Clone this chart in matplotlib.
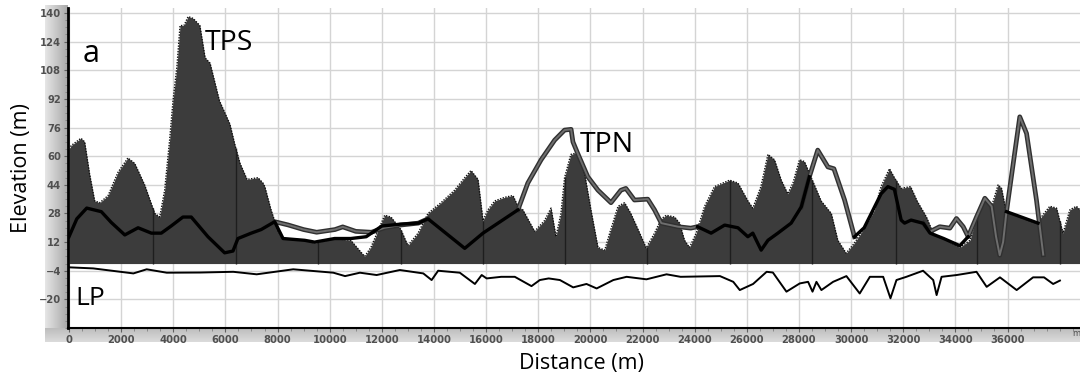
import numpy as np
import matplotlib.pyplot as plt
from matplotlib.ticker import MultipleLocator

nan = np.nan

# terrain profile (filled), distance in m, elevation in m
terrain_d = [0, 90, 460, 600, 790, 985, 1180, 1500, 1880, 2260, 2520, 2900, 3290, 3480,
             3670, 3860, 3990, 4140, 4260, 4410, 4570, 4760, 5020, 5220, 5410, 5770,
             6170, 6370, 6560, 6830, 7250, 7440, 7510, 7750, 8020, 8210, 9040, 9420,
             10190, 10810, 11340, 11580, 12110, 12350, 12730, 13000, 13390, 13770,
             14270, 14790, 15180, 15420, 15690, 15880, 16070, 16330, 16710, 17030,
             17220, 17410, 17860, 18240, 18490, 18680, 18870, 19010, 19250, 19520,
             19780, 20020, 20290, 20550, 20740, 21060, 21310, 21550, 21890, 22140,
             22460, 22720, 22910, 23230, 23420, 23610, 23800, 24060, 24380, 24760,
             25340, 25660, 26040, 26230, 26540, 26810, 27060, 27320, 27570, 27770,
             28020, 28210, 28470, 28850, 29240, 29490, 29810, 30130, 30510, 30900,
             31150, 31470, 31660, 31920, 32280, 32530, 32890, 33150, 33660, 34170,
             34560, 34810, 35130, 35390, 35640, 35770, 35960, 36210, 36600, 37110,
             37620, 37880, 38130, 38390, 38640, 38780]
terrain_e = [64, 66, 70, 68, 50, 35, 34, 38, 51, 59, 56, 44, 28, 26,
             41, 69, 91, 110, 133, 133, 138, 137, 133, 115, 112, 91,
             78, 66, 56, 47, 48, 45, 43, 30, 18, 14, 13, 11.5,
             14, 13, 4, 9, 27, 26, 19, 10, 17, 28,
             34, 41, 48, 52, 47, 24, 30, 35, 37, 38,
             32, 30, 18, 24, 31, 15, 28, 48, 61, 62,
             50, 30, 9, 7.5, 17, 32, 34, 28, 17, 8.7,
             17, 25, 27, 26, 22.6, 13, 9, 17, 32, 43,
             46.6, 45, 35, 31, 43, 61, 58, 46.6, 39, 45,
             58, 57, 48, 35, 28, 13, 5.8, 11.5, 20, 30,
             43, 53, 48, 42, 43, 35, 26, 17, 13, 9,
             13, 26, 36.5, 32, 44, 42, 28, 28, 25, 22.6,
             32, 31, 17, 30, 32, 30]

# black profile line (nan = line hidden under the grey one)
black_d = [0, 300, 680, 1240, 1620, 2140, 2650, 3160, 3540, 3920, 4370, 4690, 5330,
           5970, 6290, 6480, 6990, 7370, 7890, 8210, 9040, 9420, 10190, 10810,
           11400, 12000, 12700, 13400, 13770, 15180, 15880, 17220, 17230,
           24110, 24630, 25150, 25660, 26040, 26230, 26550, 26810, 27190, 27700,
           28090, 28400, 28410,
           30130, 30500, 31150, 31410, 31660, 31920, 32050, 32300, 32770, 33030,
           33550, 34170, 34490, 34500,
           35960, 36340, 36850, 37170]
black_e = [15, 25, 31, 29, 23, 16, 20, 17, 17, 21, 26, 26, 15,
           6, 7, 14, 17, 19, 23.4, 14, 13, 12, 14, 14,
           15, 21, 22, 22.6, 25, 8.5, 17, 30, nan,
           20.6, 17, 21.5, 20, 15, 17, 7.5, 13, 17, 22.6,
           31.7, 48.5, nan,
           15, 20, 39, 43, 41.5, 24.3, 22.6, 24.3, 22.5, 17,
           14, 10, 15, nan,
           29, 27, 24.3, 22.6]

# grey (outlined) profile line (TPN)
grey_d = [7890, 8400, 9000, 9500, 10200, 10500, 11000, 11600, 12100, 12700,
          13400, 13770, 13780,
          17220, 17600, 18110, 18630, 19010, 19260, 19330, 19500, 19900, 20290,
          20790, 21170, 21360, 21690, 22200, 22460, 22720, 23360, 23850, 24110,
          24120,
          28090, 28400, 28720, 29110, 29340, 29750, 30130, 30140,
          32770, 33020, 33400, 33790, 34040, 34300, 34490, 34810, 35130, 35390,
          35560, 35700, 35830, 35960, 36470, 36730, 37110, 37370]
grey_e = [23.4, 21.6, 19, 17.5, 19, 20.5, 18, 17.5, 20, 21.5,
          22.6, 25, nan,
          30, 45, 58, 69, 74.6, 75, 68, 62, 48.5, 41,
          34, 41, 42, 35.5, 36, 30, 22.6, 20.6, 19.8, 20.6,
          nan,
          31.7, 48.5, 63.4, 54, 53, 35.5, 15, nan,
          22.5, 17.8, 20.6, 19.8, 25.2, 20.6, 15, 26, 36.5, 32,
          15, 4.7, 12, 29, 82, 72.7, 35.5, 5]

# lower profile (LP)
lp_d = [0, 930, 2470, 2980, 3750, 5030, 6300, 7200, 8600, 10140, 10590, 11160,
        11800, 12690, 13590, 13910, 14160, 14990, 15570, 15830, 16020, 16580,
        17100, 17740, 18060, 18400, 18830, 19340, 19850, 20240, 20880, 21390,
        22150, 22920, 23460, 24970, 25480, 25730, 26240, 26760, 27000, 27520,
        28030, 28350, 28520, 28670, 28860, 29310, 29820, 30330, 30720, 31230,
        31510, 31740, 32120, 32760, 33150, 33280, 33470, 34050, 34810, 35200,
        35710, 36350, 36980, 37400, 37750, 38010]
lp_e = [-2.1, -2.7, -5.5, -3.2, -5.1, -5, -4.6, -6, -3.2, -5.1, -7, -5.1,
        -6.4, -3.6, -5.5, -9.2, -4, -5.1, -11.4, -6.4, -8.3, -7.4,
        -7.4, -12.6, -9.2, -8.3, -9.2, -13.3, -11.4, -13.9, -9.2, -7.4,
        -8.8, -6, -7.4, -7, -10.2, -14.8, -11.4, -4.6, -5, -15.7,
        -11.1, -10.2, -15.7, -10.2, -14.8, -10.2, -7, -16.7, -7.4, -7.4,
        -19.4, -9.2, -7.4, -4, -9.2, -17.6, -7.4, -6.4, -4.6, -13,
        -7.7, -14.8, -7.7, -7.7, -11.4, -9.5]

# darker segment separators inside the filled profile
segment_d = [3220, 6400, 9550, 12730, 15880, 19020, 22170, 25350, 28500, 31720, 34820, 38010]

xticks = list(range(0, 38000, 2000))
yticks = [-20, -4, 12, 28, 44, 60, 76, 92, 108, 124, 140]

fig = plt.figure(figsize=(10.8, 3.8), dpi=100)

# grey gradient bars behind the tick labels
grad = fig.add_axes([45/1080, 1-342/380, 23/1080, 337/380])
grad.imshow(np.linspace(0.90, 0.66, 50)[None, :], cmap='gray', vmin=0, vmax=1,
            aspect='auto', extent=[0, 1, 0, 1])
grad.axis('off')
gradb = fig.add_axes([45/1080, 1-342/380, 1035/1080, 14/380])
gradb.imshow(np.linspace(0.74, 0.86, 50)[:, None], cmap='gray', vmin=0, vmax=1,
             aspect='auto', extent=[0, 1, 0, 1])
gradb.axis('off')

ax = fig.add_axes([68/1080, 1-328/380, 1012/1080, 320/380])
ax.set_xlim(-38, 38780)
ax.set_ylim(-36, 142.8)

ax.fill_between(terrain_d, 0, terrain_e, color='#3c3c3c', lw=0, zorder=2)
ax.plot(terrain_d, terrain_e, color='#111111', lw=1.0, ls=(0, (1, 1)), zorder=3)
seg_top = np.interp(segment_d, terrain_d, terrain_e)
ax.vlines(segment_d, 0, seg_top, color='#1e1e1e', lw=1.0, zorder=3)

ax.plot(grey_d, grey_e, color='#303030', lw=3.4, zorder=4)
ax.plot(grey_d, grey_e, color='#6e6e6e', lw=1.4, zorder=4)
ax.plot(black_d, black_e, color='black', lw=2.4, zorder=5)
ax.plot(lp_d, lp_e, color='black', lw=1.4, zorder=5)

ax.set_xticks(xticks)
ax.set_yticks(yticks)
ax.yaxis.set_minor_locator(MultipleLocator(4))
ax.xaxis.set_minor_locator(MultipleLocator(500))
ax.grid(True, color='#d4d4d4', lw=1.0, zorder=0)
ax.set_axisbelow(True)
ax.tick_params(axis='both', which='major', labelsize=7.2, labelcolor='#505050',
               length=3, color='#606060', pad=2)
ax.tick_params(axis='both', which='minor', length=2, color='#808080')
for lab in ax.get_xticklabels() + ax.get_yticklabels():
    lab.set_fontweight('bold')
for s in ['top', 'right']:
    ax.spines[s].set_visible(False)
ax.spines['left'].set_linewidth(2)
ax.spines['bottom'].set_linewidth(1.5)
ax.set_facecolor('none')

ax.text(540, 117, 'a', fontsize=22, family='Open Sans', va='center')
ax.text(5220, 123, 'TPS', fontsize=20.5, family='Open Sans', va='center')
ax.text(19600, 66, 'TPN', fontsize=20.5, family='Open Sans', va='center')
ax.text(250, -19.3, 'LP', fontsize=19, family='Open Sans', va='center')
fig.text(1076/1080, 1-334/380, 'm', fontsize=6, color='#505050', ha='center', va='center')

fig.text(22/1080, 1-168/380, 'Elevation (m)', rotation=90, fontsize=15.5,
         family='Open Sans', ha='center', va='center')
fig.text(581/1080, 1-364/380, 'Distance (m)', fontsize=15.5, family='Open Sans',
         ha='center', va='center')

fig.savefig('out.png', dpi=100)
